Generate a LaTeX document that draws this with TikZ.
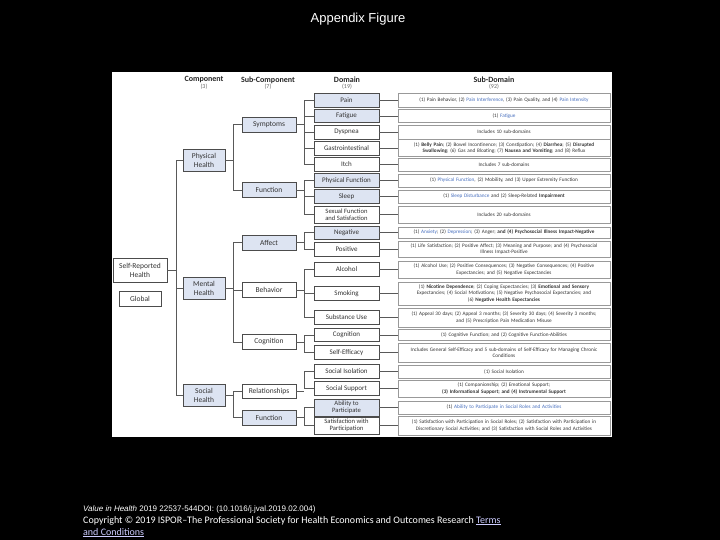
\documentclass[tikz,border=0pt]{standalone}
\usepackage{fontspec}
\setmainfont{Carlito}
\newfontfamily\arialfont{Liberation Sans}
\usepackage{xcolor}
\usepackage{tikz}
\usetikzlibrary{positioning,calc}

\definecolor{hlblue}{RGB}{221,228,242}
\definecolor{linkblue}{RGB}{70,110,190}
\definecolor{termblue}{RGB}{205,205,255}

\tikzset{
  box/.style={draw=black!70, line width=0.6pt, fill=white, text=black!80, align=center,
    inner sep=0pt, font=\fontsize{7}{8}\selectfont},
  hlbox/.style={box, fill=hlblue},
  compbox/.style={minimum width=42pt, minimum height=22pt, font=\fontsize{7.5}{9}\selectfont},
  subcbox/.style={minimum width=54pt, minimum height=15pt, font=\fontsize{7.5}{9}\selectfont},
  dombox/.style={minimum width=65pt, minimum height=14pt},
  descbox/.style={draw=black!40, line width=0.5pt, fill=white, text=black!80, align=center,
    text width=206pt, minimum width=212pt, inner sep=0pt, font=\fontsize{5.2}{6.2}\selectfont},
  link/.style={draw=black!65, line width=0.6pt},
  head/.style={font=\bfseries\fontsize{8}{9}\selectfont, text=black!85},
  count/.style={font=\fontsize{6}{7}\selectfont, text=black!60}
}

\begin{document}
\begin{tikzpicture}[x=1pt,y=-1pt]
      \fill[black] (0,0) rectangle (720,540);
      \useasboundingbox (0,0) rectangle (720,540);
      \clip (0,0) rectangle (720,540);
      \fill[white] (112,72) rectangle (612,437);

      \node[text=white] at (358,19) (title) {\arialfont\fontsize{13}{15}\selectfont Appendix Figure};

      % headers
      \node[head] at (204,80) (hcomp) {Component};
      \node[count] at (204,87) (ncomp) {(3)};
      \node[head] at (268,80) (hsubc) {Sub-Component};
      \node[count] at (268,87) (nsubc) {(7)};
      \node[head] at (347,80) (hdom) {Domain};
      \node[count] at (347,87) (ndom) {(19)};
      \node[head] at (494,80) (hsubd) {Sub-Domain};
      \node[count] at (494,87) (nsubd) {(92)};

      % trunk positions
      \coordinate (tcomp) at (176,0);
      \coordinate (tsubc) at (233,0);
      \coordinate (tdom) at (304,0);

      % left side
      \node[box, minimum width=54pt, minimum height=24pt, font=\fontsize{7.5}{9}\selectfont] at (140,270) (srh) {Self-Reported\\Health};
      \node[box, minimum width=42pt, minimum height=15pt, font=\fontsize{7.5}{9}\selectfont] at (140,298.5) (glob) {Global};

      % components
      \node[hlbox, compbox] at (204,160) (phys) {Physical\\Health};
      \node[hlbox, compbox] at (204,288) (ment) {Mental\\Health};
      \node[hlbox, compbox] at (204,395) (soc) {Social\\Health};

      % sub-components
      \node[hlbox, subcbox] at (269,124.5) (symp) {Symptoms};
      \node[hlbox, subcbox] at (269,190) (pfun) {Function};
      \node[hlbox, subcbox] at (269,242.5) (aff) {Affect};
      \node[box, subcbox] at (269,290) (beh) {Behavior};
      \node[box, subcbox] at (269,342) (cog) {Cognition};
      \node[box, subcbox, minimum height=14pt] at (269,391.5) (rel) {Relationships};
      \node[hlbox, subcbox] at (269,417.5) (sfun) {Function};

      % domains
      \node[hlbox, dombox] at (346.5,100) (pain) {Pain};
      \node[hlbox, dombox, minimum height=13pt] at (346.5,116) (fat) {Fatigue};
      \node[box, dombox] at (346.5,132) (dys) {Dyspnea};
      \node[box, dombox] at (346.5,148) (gas) {Gastrointestinal};
      \node[box, dombox] at (346.5,164.5) (itch) {Itch};
      \node[hlbox, dombox] at (346.5,180.5) (physf) {Physical Function};
      \node[hlbox, dombox] at (346.5,196.5) (sleep) {Sleep};
      \node[box, dombox, minimum height=17pt, font=\fontsize{6.6}{7}\selectfont] at (346.5,214.5) (sex) {Sexual Function\\and Satisfaction};
      \node[hlbox, dombox, minimum height=13pt] at (346.5,232.5) (neg) {Negative};
      \node[box, dombox] at (346.5,249) (pos) {Positive};
      \node[box, dombox] at (346.5,269.5) (alc) {Alcohol};
      \node[box, dombox] at (346.5,293.5) (smok) {Smoking};
      \node[box, dombox] at (346.5,317.5) (subst) {Substance Use};
      \node[box, dombox, minimum height=13pt] at (346.5,335) (cogn) {Cognition};
      \node[box, dombox] at (346.5,352.5) (selfe) {Self-Efficacy};
      \node[box, dombox] at (346.5,371.5) (isol) {Social Isolation};
      \node[box, dombox] at (346.5,388.5) (supp) {Social Support};
      \node[hlbox, dombox, minimum height=17pt, font=\fontsize{6.6}{7}\selectfont] at (346.5,407.5) (abil) {Ability to\\Participate};
      \node[box, dombox, minimum height=17pt, font=\fontsize{6.6}{7}\selectfont] at (346.5,425.5) (satis) {Satisfaction with\\Participation};

      % sub-domains
      \node[descbox, minimum height=14pt] at (504,100) (dpain) {(1) Pain Behavior, (2) \textcolor{linkblue}{Pain Interference}, (3) Pain Quality, and (4) \textcolor{linkblue}{Pain Intensity}};
      \node[descbox, minimum height=13pt] at (504,116) (dfat) {(1) \textcolor{linkblue}{Fatigue}};
      \node[descbox, minimum height=14pt] at (504,132) (ddys) {Includes 10 sub-domains};
      \node[descbox, minimum height=17pt] at (504,148) (dgas) {(1) \textbf{Belly Pain}; (2) Bowel Incontinence; (3) Constipation; (4) \textbf{Diarrhea}; (5) \textbf{Disrupted}\\\textbf{Swallowing}; (6) Gas and Bloating; (7) \textbf{Nausea and Vomiting}; and (8) Reflux};
      \node[descbox, minimum height=13pt] at (504,164.5) (ditch) {Includes 7 sub-domains};
      \node[descbox, minimum height=13pt] at (504,180.5) (dphysf) {(1) \textcolor{linkblue}{Physical Function}, (2) Mobility, and (3) Upper Extremity Function};
      \node[descbox, minimum height=13pt] at (504,196.5) (dsleep) {(1) \textcolor{linkblue}{Sleep Disturbance} and (2) Sleep-Related \textbf{Impairment}};
      \node[descbox, minimum height=17pt] at (504,214.5) (dsex) {Includes 20 sub-domains};
      \node[descbox, minimum height=11pt] at (504,232.5) (dneg) {(1) \textcolor{linkblue}{Anxiety}; (2) \textcolor{linkblue}{Depression}; (3) Anger; \textbf{and (4) Psychosocial Illness Impact-Negative}};
      \node[descbox, minimum height=16pt] at (504,249) (dpos) {(1) Life Satisfaction; (2) Positive Affect; (3) Meaning and Purpose; and (4) Psychosocial\\Illness Impact-Positive};
      \node[descbox, minimum height=17pt] at (504,269.5) (dalc) {(1) Alcohol Use; (2) Positive Consequences; (3) Negative Consequences; (4) Positive\\Expectancies; and (5) Negative Expectancies};
      \node[descbox, minimum height=23pt] at (504,293.5) (dsmok) {(1) \textbf{Nicotine Dependence}; (2) Coping Expectancies; (3) \textbf{Emotional and Sensory}\\Expectancies; (4) Social Motivations; (5) Negative Psychosocial Expectancies; and\\(6) \textbf{Negative Health Expectancies}};
      \node[descbox, minimum height=19pt] at (504,317.5) (dsubst) {(1) Appeal 30 days; (2) Appeal 3 months; (3) Severity 30 days; (4) Severity 3 months;\\and (5) Prescription Pain Medication Misuse};
      \node[descbox, minimum height=11pt] at (504,335) (dcogn) {(1) Cognitive Function; and (2) Cognitive Function-Abilities};
      \node[descbox, minimum height=19pt] at (504,352.5) (dselfe) {Includes General Self-Efficacy and 5 sub-domains of Self-Efficacy for Managing Chronic\\Conditions};
      \node[descbox, minimum height=13pt] at (504,371.5) (disol) {(1) Social Isolation};
      \node[descbox, minimum height=17pt] at (504,388.5) (dsupp) {(1) Companionship; (2) Emotional Support;\\\textbf{(3) Informational Support; and (4) Instrumental Support}};
      \node[descbox, minimum height=13pt] at (504,407.5) (dabil) {(1) \textcolor{linkblue}{Ability to Participate in Social Roles and Activities}};
      \node[descbox, minimum height=19pt] at (504,425.5) (dsatis) {(1) Satisfaction with Participation in Social Roles; (2) Satisfaction with Participation in\\Discretionary Social Activities; and (3) Satisfaction with Social Roles and Activities};

      % component tree
      \draw[link] (phys.west) -- (phys.west -| tcomp) -- (soc.west -| tcomp) -- (soc.west);
      \draw[link] (ment.west) -- (ment.west -| tcomp);
      \draw[link] (srh.east) -- (srh.east -| tcomp);

      % sub-component tree
      \draw[link] (symp.west) -- (symp.west -| tsubc) -- (pfun.west -| tsubc) -- (pfun.west);
      \draw[link] (phys.east) -- (phys.east -| tsubc);
      \draw[link] (aff.west) -- (aff.west -| tsubc) -- (cog.west -| tsubc) -- (cog.west);
      \draw[link] (beh.west) -- (beh.west -| tsubc);
      \draw[link] (ment.east) -- (ment.east -| tsubc);
      \draw[link] (rel.west) -- (rel.west -| tsubc) -- (sfun.west -| tsubc) -- (sfun.west);
      \draw[link] (soc.east) -- (soc.east -| tsubc);

      % domain tree
      \draw[link] (pain.west) -- (pain.west -| tdom) -- (itch.west -| tdom) -- (itch.west);
      \draw[link] (fat.west) -- (fat.west -| tdom);
      \draw[link] (dys.west) -- (dys.west -| tdom);
      \draw[link] (gas.west) -- (gas.west -| tdom);
      \draw[link] (symp.east) -- (symp.east -| tdom);
      \draw[link] (physf.west) -- (physf.west -| tdom) -- (sex.west -| tdom) -- (sex.west);
      \draw[link] (sleep.west) -- (sleep.west -| tdom);
      \draw[link] (pfun.east) -- (pfun.east -| tdom);
      \draw[link] (neg.west) -- (neg.west -| tdom) -- (pos.west -| tdom) -- (pos.west);
      \draw[link] (aff.east) -- (aff.east -| tdom);
      \draw[link] (alc.west) -- (alc.west -| tdom) -- (subst.west -| tdom) -- (subst.west);
      \draw[link] (smok.west) -- (smok.west -| tdom);
      \draw[link] (beh.east) -- (beh.east -| tdom);
      \draw[link] (cogn.west) -- (cogn.west -| tdom) -- (selfe.west -| tdom) -- (selfe.west);
      \draw[link] (cog.east) -- (cog.east -| tdom);
      \draw[link] (isol.west) -- (isol.west -| tdom) -- (supp.west -| tdom) -- (supp.west);
      \draw[link] (rel.east) -- (rel.east -| tdom);
      \draw[link] (abil.west) -- (abil.west -| tdom) -- (satis.west -| tdom) -- (satis.west);
      \draw[link] (sfun.east) -- (sfun.east -| tdom);

      % domain to sub-domain
      \draw[link] (pain) -- (dpain);
      \draw[link] (fat) -- (dfat);
      \draw[link] (dys) -- (ddys);
      \draw[link] (gas) -- (dgas);
      \draw[link] (itch) -- (ditch);
      \draw[link] (physf) -- (dphysf);
      \draw[link] (sleep) -- (dsleep);
      \draw[link] (sex) -- (dsex);
      \draw[link] (neg) -- (dneg);
      \draw[link] (pos) -- (dpos);
      \draw[link] (alc) -- (dalc);
      \draw[link] (smok) -- (dsmok);
      \draw[link] (subst) -- (dsubst);
      \draw[link] (cogn) -- (dcogn);
      \draw[link] (selfe) -- (dselfe);
      \draw[link] (isol) -- (disol);
      \draw[link] (supp) -- (dsupp);
      \draw[link] (abil) -- (dabil);
      \draw[link] (satis) -- (dsatis);

      % footer
      \node[text=white, anchor=north west, align=left, inner sep=0pt] at (83,505) (foot)
        {\arialfont\fontsize{8}{9}\selectfont \textit{Value in Health} 2019 22537-544DOI: (10.1016/j.jval.2019.02.004)\\
         Copyright \textcopyright{} 2019 ISPOR--The Professional Society for Health Economics and Outcomes Research \textcolor{termblue}{\underline{Terms}}\\
         \textcolor{termblue}{\underline{and Conditions}}};
    \end{tikzpicture}
\end{document}
